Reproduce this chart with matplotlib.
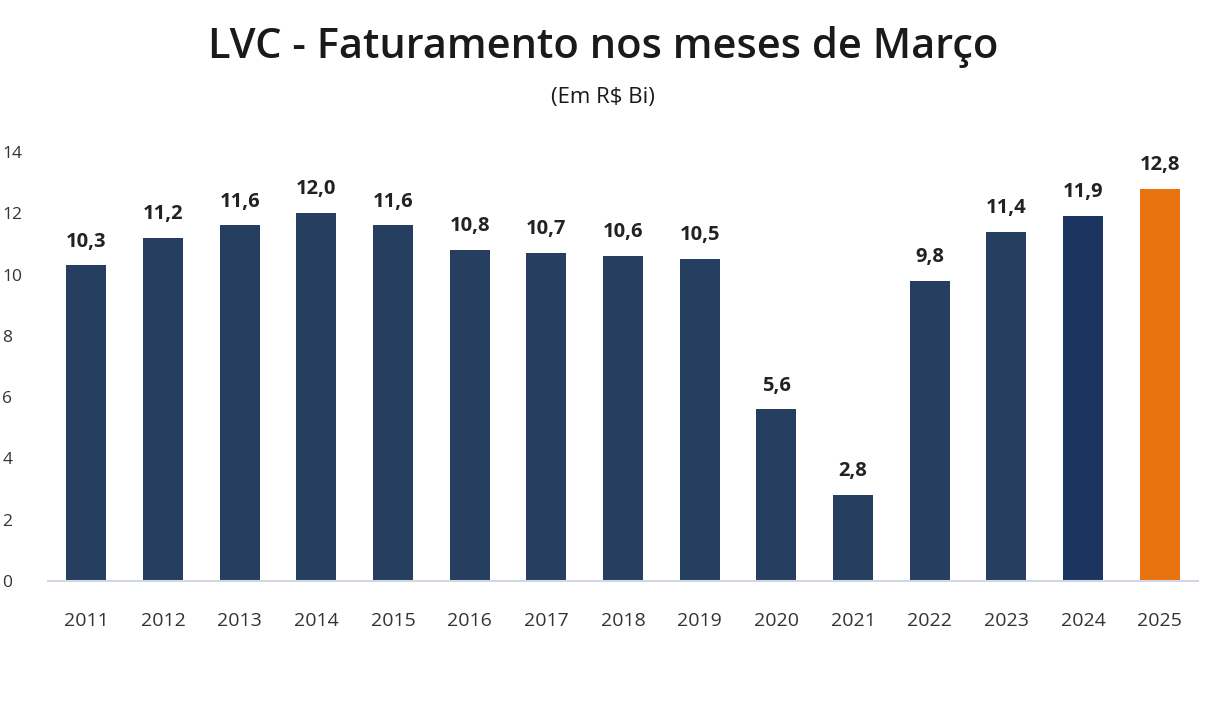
import matplotlib
matplotlib.use("Agg")
import matplotlib.pyplot as plt

years = ["2011", "2012", "2013", "2014", "2015", "2016", "2017", "2018",
         "2019", "2020", "2021", "2022", "2023", "2024", "2025"]
values = [10.3, 11.2, 11.6, 12.0, 11.6, 10.8, 10.7, 10.6, 10.5, 5.6, 2.8,
          9.8, 11.4, 11.9, 12.8]
value_labels = ["10,3", "11,2", "11,6", "12,0", "11,6", "10,8", "10,7", "10,6",
                "10,5", "5,6", "2,8", "9,8", "11,4", "11,9", "12,8"]
y_ticks = [0, 2, 4, 6, 8, 10, 12, 14]

navy = "#263e60"
navy2 = "#1c3460"
orange = "#e8730f"
colors = [navy] * 13 + [navy2, orange]

plt.rcParams['font.family'] = ['Open Sans', 'DejaVu Sans']

fig = plt.figure(figsize=(12.06, 7.2), dpi=100)
ax = fig.add_axes([0.0398, 0.193, 0.9536, 0.596])

x = list(range(len(years)))
ax.bar(x, values, width=0.52, color=colors, zorder=2)

for xi, v, lab in zip(x, values, value_labels):
    ax.text(xi, v + 0.45, lab, ha="center", va="bottom", fontsize=14.5,
            fontweight="bold", color="#222222")

ax.set_xlim(-0.5, len(years) - 0.5)
ax.set_ylim(0, 14)
ax.set_xticks(x)
ax.set_xticklabels(years, fontsize=14, color="#333333")
ax.set_yticks(y_ticks)
ax.set_yticklabels([str(t) for t in y_ticks], fontsize=12.5, color="#333333")
ax.tick_params(axis="both", length=0)
ax.tick_params(axis="x", pad=22)
ax.tick_params(axis="y", pad=33)
for lbl in ax.get_yticklabels():
    lbl.set_horizontalalignment("left")

for s in ["top", "right", "left"]:
    ax.spines[s].set_visible(False)
ax.spines["bottom"].set_color("#d0d8e4")
ax.spines["bottom"].set_linewidth(1.5)

fig.text(0.5, 0.935, "LVC - Faturamento nos meses de Março", ha="center",
         va="center", fontsize=30, fontweight="semibold", color="#1a1a1a")
fig.text(0.5, 0.865, "(Em R$ Bi)", ha="center", va="center", fontsize=16,
         color="#1a1a1a")

fig.savefig("out.png", dpi=100, facecolor="white")
